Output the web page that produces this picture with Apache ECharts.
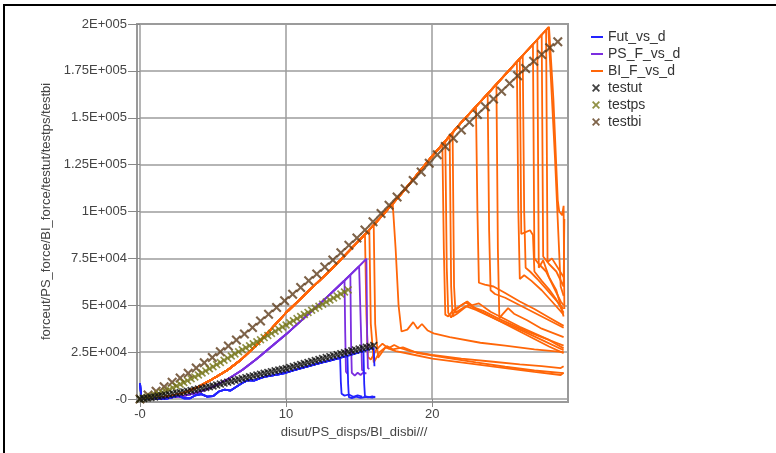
<!DOCTYPE html>
<html>
<head>
<meta charset="utf-8">
<script src="https://cdn.jsdelivr.net/npm/echarts@6.0.0/dist/echarts.min.js"></script>
<style>
html, body { margin: 0; padding: 0; background: #fff; }
#chart { width: 776px; height: 453px; }
</style>
</head>
<body>
<div id="chart"></div>
<script>
// test points (markers)
var testut = [[0,0],[0.25,280],[0.5,550],[0.75,830],[1,1100],[1.25,1420],[1.5,1750],[1.75,2080],[2,2400],[2.25,2750],[2.5,3100],[2.75,3450],[3,3800],[3.25,4180],[3.5,4550],[3.75,4930],[4,5300],[4.25,5700],[4.5,6100],[4.75,6500],[5,6900],[5.25,7420],[5.5,7950],[5.75,8480],[6,9000],[6.25,9480],[6.5,9950],[6.75,10430],[7,10900],[7.25,11380],[7.5,11850],[7.75,12330],[8,12800],[8.25,13250],[8.5,13700],[8.75,14150],[9,14600],[9.25,15030],[9.5,15450],[9.75,15880],[10,16300],[10.25,16830],[10.5,17350],[10.75,17880],[11,18400],[11.25,18930],[11.5,19450],[11.75,19980],[12,20500],[12.25,21030],[12.5,21550],[12.75,22080],[13,22600],[13.25,23130],[13.5,23650],[13.75,24180],[14,24700],[14.25,25200],[14.5,25700],[14.75,26200],[15,26700],[15.25,27150],[15.5,27600],[15.75,28050],[16,28500]];
var testps = [[0,0],[0.25,400],[0.5,900],[0.75,1400],[1,2000],[1.25,2700],[1.5,3450],[1.75,4200],[2,5000],[2.25,5950],[2.5,6900],[2.75,7850],[3,8800],[3.25,9800],[3.5,10800],[3.75,11800],[4,12800],[4.25,13900],[4.5,15000],[4.75,16100],[5,17200],[5.25,18350],[5.5,19500],[5.75,20650],[6,21800],[6.25,22930],[6.5,24050],[6.75,25180],[7,26300],[7.25,27350],[7.5,28400],[7.75,29450],[8,30500],[8.25,31630],[8.5,32750],[8.75,33880],[9,35000],[9.25,36130],[9.5,37250],[9.75,38380],[10,39500],[10.25,40630],[10.5,41750],[10.75,42880],[11,44000],[11.25,45100],[11.5,46200],[11.75,47300],[12,48400],[12.25,49500],[12.5,50600],[12.75,51700],[13,52800],[13.25,53880],[13.5,54950],[13.75,56030],[14,57100],[14.25,58200]];
var testbi = [[0,0],[0.55,2100],[1.1,4200],[1.65,6500],[2.2,8900],[2.75,11200],[3.3,13800],[3.85,16500],[4.4,19300],[4.95,22100],[5.5,25200],[6.05,28300],[6.6,31500],[7.15,34700],[7.7,38100],[8.25,41600],[8.8,45200],[9.35,48800],[9.9,52400],[10.45,55900],[11,59500],[11.55,63100],[12.1,66700],[12.65,70400],[13.2,74200],[13.75,78000],[14.3,82000],[14.85,85900],[15.4,90200],[15.95,94600],[16.5,99000],[17.05,103400],[17.6,107800],[18.15,112200],[18.7,116600],[19.25,121100],[19.8,125800],[20.35,130300],[20.9,134700],[21.45,139100],[22,143500],[22.55,147600],[23.1,151800],[23.65,155900],[24.2,160000],[24.75,164100],[25.3,168300],[25.85,172400],[26.4,176300],[26.95,180200],[27.5,183800],[28.05,187300],[28.6,190500]];

// loading paths shared by the runs of each series
var utRise = [[0,8500],[0.1,300],[0.6,0],[1.2,300],[1.7,0],[2.2,900],[2.6,1800],[3,400],[3.4,300],[3.8,2000],[4.2,2600],[4.6,1300],[5,1500],[5.4,4000],[5.8,5000],[6.2,4500],[6.6,6500],[7,8500],[7.4,10000],[7.8,9800],[8.2,11000],[8.6,12000],[9,12500],[9.5,13200],[10,14000],[10.5,15200],[11,16300],[11.5,17400],[12,18500],[12.5,19500],[13,20500],[13.5,21500],[14,22600],[14.5,23700],[15,24800],[15.5,26000],[16,27300]];
var psRise = [[0,0],[1,200],[2,700],[3,1700],[4,3500],[5,6500],[6,10500],[7,15500],[8,21500],[9,28000],[10,34500],[11,41500],[12,48600],[13,55800],[14,63200],[15,70800],[15.5,74800]];
var biRise = [[0,0],[1,400],[2,1400],[3,3300],[4,6500],[5,10800],[6,15500],[7,21500],[8,29000],[9,37500],[10,46000],[11,53500],[12,61000],[13,68500],[14,76500],[15,84500],[16,92800],[17,101500],[18,110500],[19,120000],[20,129500],[21,138500],[22,147500],[23,156000],[24,164500],[25,173000],[26,181500],[27,190000],[28,198500]];

// after-peak parts of each run (first point = peak)
var utTails = [
  [[13.7,21900],[13.75,9000],[13.8,2800],[14,1800],[14.3,2400],[14.6,1200],[14.9,2000],[15.2,1300]],
  [[14.2,23000],[14.25,8000],[14.3,1000],[14.5,500],[14.8,1300],[15.1,600],[15.5,1200],[15.9,700],[16.1,1300]],
  [[15.3,25500],[15.35,8000],[15.4,1500],[15.6,800],[15.9,1400],[16.1,900]],
  [[16,27300],[16.05,17500]]
];
var psTails = [
  [[14,63200],[14.05,35000],[14.1,14500],[14.2,13500]],
  [[14.4,66200],[14.45,30000],[14.5,14000],[14.7,12500],[14.9,14000],[15.1,12800],[15.3,14200],[15.5,13500]],
  [[15.1,71600],[15.15,30000],[15.2,15500],[15.3,15000]],
  [[15.5,74800],[15.55,35000],[15.6,16500],[15.7,16000]]
];
var biTails = [
  [[15.4,87800],[15.5,45000],[15.6,22500],[15.8,21000],[16.2,26500],[16.6,29500],[17,27000],[17.4,28800],[17.8,27200],[18.5,25500],[20,23500],[22,21500],[24,20000],[26,18500],[27.5,17500],[28.8,16500],[29,17500]],
  [[15.7,90300],[15.8,40000],[16,19500],[16.4,25000],[16.9,28200],[17.3,26500],[18,27500],[19,24500],[21,22000],[23,19500],[25,17200],[27,15200],[29,13800]],
  [[16,92800],[16.1,40000],[16.3,22000],[16.8,27500],[17.5,25500],[18.5,24000],[20,21500],[22.5,19000],[25,16500],[27,14500],[28.8,12800],[29,14000]],
  [[17.3,104200],[17.5,80000],[17.7,50000],[17.9,36000],[18.3,37000],[18.7,41000],[19,37500],[19.3,40000],[19.7,36500],[20.1,35000],[21.2,33000],[23.3,30000],[25,28500],[27,26500],[29,25000]],
  [[20.7,135800],[20.8,80000],[20.9,45000],[21.1,44000],[21.4,47000],[21.8,49000],[22.3,51500],[22.8,49000],[23.5,47000],[24.5,43000],[25.5,39500],[26.5,36000],[27.5,33000],[28.5,30000],[29,28500]],
  [[20.9,137600],[21,70000],[21.1,46000],[21.3,43500],[21.6,47500],[22,50000],[22.4,52000],[22.7,50000],[23.2,51000],[24,46500],[25,42500],[26,38500],[27,35000],[28,31500],[29,27000]],
  [[21.2,140300],[21.3,60000],[21.4,44000],[21.7,45500],[22.2,48500],[22.6,50500],[23,48000],[24,44000],[25,40000],[26,36000],[27,32000],[28,28000],[29,24500]],
  [[21.4,142100],[21.5,60000],[21.6,46000],[21.8,47000],[22.3,49500],[23,47500],[24.5,42000],[26,37000],[27.5,31500],[29,26000]],
  [[23,156000],[23.1,100000],[23.2,62000],[23.6,61000],[24.2,60000],[25,56500],[26,52000],[27,48000],[28,43500],[29,39000]],
  [[23.8,162800],[23.9,90000],[24,58000],[24.3,56000],[25,54000],[26,50000],[27,46000],[28,42000],[29,38000]],
  [[24.4,167900],[24.5,80000],[24.6,43000],[24.8,45000],[25.2,48500],[25.6,45500],[26.5,42000],[27.5,37500],[29,33000]],
  [[25.8,179800],[25.9,100000],[26,64000],[26.3,66000],[26.8,63000],[27.5,58000],[28.2,52000],[29,45000]],
  [[26.2,183200],[26.3,100000],[26.4,70000],[26.7,68000],[27.2,64000],[28,57000],[29,48000]],
  [[26,181500],[26.1,88000],[26.4,89000],[26.7,90000],[26.9,87500],[27,68000],[27.5,63000],[28,58500],[28.5,53000],[29,46000]],
  [[26.9,189200],[27,75000],[27.3,72000],[27.8,68000],[28.3,60000],[28.8,52000],[29,50000]],
  [[27.2,191700],[27.3,70000],[27.6,74000],[28,65000],[28.5,58000],[29,44000]],
  [[27.5,194300],[27.6,76000],[28,72000],[28.5,68000],[29,60000],[29.05,96000]],
  [[27.8,196800],[27.9,73000],[28.2,75000],[28.6,70000],[29,65000]],
  [[28,198500],[28.3,160000],[28.6,106000],[28.7,100000],[28.9,98000],[29,103000],[29.05,48000]],
  [[27.95,198200],[28.4,130000],[28.8,60000],[29,55000]]
];

var xTicks = [0, 10, 20];
var yTicks = [0, 25000, 50000, 75000, 100000, 125000, 150000, 175000, 200000];

var FONT = '"Liberation Sans", Arial, sans-serif';
var X_SYM = 'path://M0,1.5L1.5,0L5,3.5L8.5,0L10,1.5L6.5,5L10,8.5L8.5,10L5,6.5L1.5,10L0,8.5L3.5,5Z';
var LEG_LINE = 'path://M0,0L0.01,0ZM0,4L12,4L12,6L0,6ZM12,10L11.99,10Z';
var LEG_X = 'path://M0,0L0.01,0ZM1,2.28L2.28,1L5,3.72L7.72,1L9,2.28L6.28,5L9,7.72L7.72,9L5,6.28L2.28,9L1,7.72L3.72,5ZM12,10L11.99,10Z';

function run(rise, tail) {
  var x0 = tail[0][0];
  return rise.filter(function (p) { return p[0] < x0; }).concat(tail);
}
function lineSeries(name, color, data) {
  return {
    name: name, type: 'line', data: data, showSymbol: false, symbol: 'none',
    lineStyle: { width: 1.8, color: color }, itemStyle: { color: color },
    silent: true, animation: false, z: 2
  };
}
function markSeries(name, color, data, size) {
  return {
    name: name, type: 'scatter', data: data, symbol: X_SYM, symbolSize: size,
    itemStyle: { color: color }, silent: true, animation: false, z: 3
  };
}
function sciLabel(v) {
  if (v === 0) return '-0';
  var e = Math.floor(Math.log10(v));
  var m = v / Math.pow(10, e);
  return m + 'E+' + ('00' + e).slice(-3);
}

var series = [];
biTails.forEach(function (t) { series.push(lineSeries('BI_F_vs_d', '#ff6608', run(biRise, t))); });
psTails.forEach(function (t) { series.push(lineSeries('PS_F_vs_d', '#7b2ee0', run(psRise, t))); });
utTails.forEach(function (t) { series.push(lineSeries('Fut_vs_d', '#2323ff', run(utRise, t))); });
series.push(markSeries('testbi', '#5e3c1c', testbi, 10));
series.push(markSeries('testps', '#767618', testps, 8));
series.push(markSeries('testut', '#111111', testut, 8));

var chart = echarts.init(document.getElementById('chart'));
chart.setOption({
  animation: false,
  grid: { left: 140, right: 208, top: 24, bottom: 54, containLabel: false },
  graphic: [
    { type: 'rect', silent: true, shape: { x: 4, y: 5, width: 900, height: 600 },
      style: { fill: 'none', stroke: '#000', lineWidth: 2 } },
    { type: 'rect', silent: true, z: -1, shape: { x: 137, y: 24, width: 431, height: 378 },
      style: { fill: 'none', stroke: '#999', lineWidth: 2 } }
  ],
  legend: {
    orient: 'vertical', left: 586, top: 24, itemWidth: 12, itemHeight: 10, itemGap: 1,
    symbolKeepAspect: false, selectedMode: false,
    textStyle: { fontFamily: FONT, fontSize: 14, color: '#333', lineHeight: 16 },
    data: [
      { name: 'Fut_vs_d', icon: LEG_LINE },
      { name: 'PS_F_vs_d', icon: LEG_LINE },
      { name: 'BI_F_vs_d', icon: LEG_LINE },
      { name: 'testut', icon: LEG_X },
      { name: 'testps', icon: LEG_X },
      { name: 'testbi', icon: LEG_X }
    ]
  },
  xAxis: {
    type: 'value', min: 0, max: 29.3, interval: 10,
    name: 'disut/PS_disps/BI_disbi///', nameLocation: 'middle', nameGap: 26,
    nameTextStyle: { fontFamily: FONT, fontSize: 13, color: '#444' },
    axisLine: { show: false },
    axisTick: { show: true, length: 8, customValues: xTicks, lineStyle: { color: '#888' } },
    axisLabel: { customValues: xTicks, margin: 9, fontFamily: FONT, fontSize: 13, color: '#444',
      formatter: function (v) { return v === 0 ? '-0' : String(v); } },
    splitLine: { show: true, lineStyle: { color: '#9c9c9c', width: 1.5 } }
  },
  yAxis: {
    type: 'value', min: 0, max: 200000, interval: 25000,
    name: 'forceut/PS_force/BI_force/testut/testps/testbi', nameLocation: 'middle', nameGap: 83,
    nameTextStyle: { fontFamily: FONT, fontSize: 13, color: '#444' },
    axisLine: { show: false },
    axisTick: { show: true, length: 12, customValues: yTicks, lineStyle: { color: '#888' } },
    axisLabel: { customValues: yTicks, margin: 13, fontFamily: FONT, fontSize: 13, color: '#444',
      padding: [0, 0, 6, 0], formatter: sciLabel },
    splitLine: { show: true, lineStyle: { color: '#9c9c9c', width: 1.5 } }
  },
  series: series
});
</script>
</body>
</html>
